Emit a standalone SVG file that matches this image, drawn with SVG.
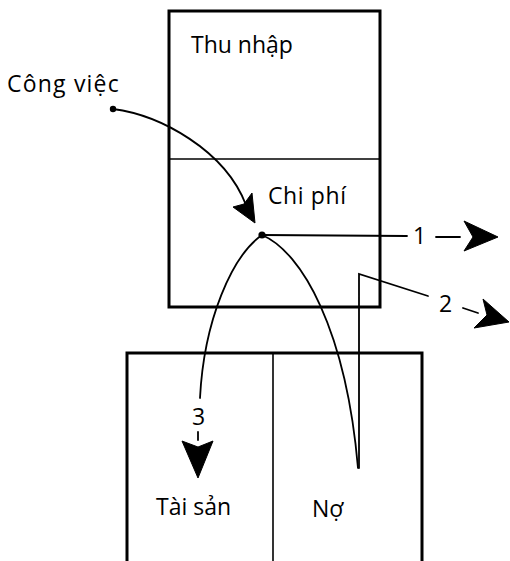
<svg xmlns="http://www.w3.org/2000/svg" width="510" height="561" viewBox="0 0 510 561">
<style>
.box{fill:none;stroke:#000;stroke-width:3;stroke-linecap:square}
.div{fill:none;stroke:#000;stroke-width:1.6}
.ln{fill:none;stroke:#000;stroke-width:1.8;stroke-linecap:round}
.ah{fill:#000;stroke:#000;stroke-width:1;stroke-linejoin:round}
text{font-family:"Open Sans","Liberation Sans",sans-serif;font-size:23px;fill:#000}
</style>
<rect width="510" height="561" fill="#fff"/>
<g id="top-box">
<rect class="box" x="169" y="11" width="211" height="296"/>
<line class="div" x1="169" y1="159" x2="380" y2="159"/>
</g>
<g id="thu-nhap"><text x="191" y="53">Thu nhập</text></g>
<g id="chi-phi"><text x="268" y="204" letter-spacing="0.6">Chi phí</text></g>
<g id="bottom-box">
<path class="box" d="M127,561 V353 H422 V561"/>
<line class="div" x1="273" y1="353" x2="273" y2="561"/>
</g>
<g id="tai-san"><text x="156" y="515">Tài sản</text></g>
<g id="no"><text x="312" y="517">Nợ</text></g>
<g id="cong-viec"><text x="7" y="92" letter-spacing="1.2">Công việc</text></g>
<g id="connectors">
<circle cx="113" cy="109" r="3.2"/>
<path class="ln" d="M113,109 C160,115 225,150 246,205"/>
<polygon class="ah" points="255,223 233,207 244,204 252,193"/>
<circle cx="262" cy="235" r="3.6"/>
<line class="ln" x1="262" y1="235" x2="407" y2="236"/>
<text x="413" y="244">1</text>
<line class="ln" x1="436" y1="237" x2="460" y2="237"/>
<polygon class="ah" points="498,237 464,221 473,237 464,251"/>
<path class="ln" d="M262,235 C232,256 204,320 200,398"/>
<text x="192" y="425">3</text>
<line class="ln" x1="198" y1="432" x2="198" y2="440"/>
<polygon class="ah" points="198,478 182,441 198,447 213,441"/>
<path class="ln" d="M262,235 C302,252 346,330 358,468"/>
<path class="ln" d="M359,468 V274 L428,296"/>
<text x="439" y="312">2</text>
<line class="ln" x1="463" y1="308" x2="478" y2="313"/>
<polygon class="ah" points="509,322 483,299 487,315 474,328"/>
</g>
</svg>
